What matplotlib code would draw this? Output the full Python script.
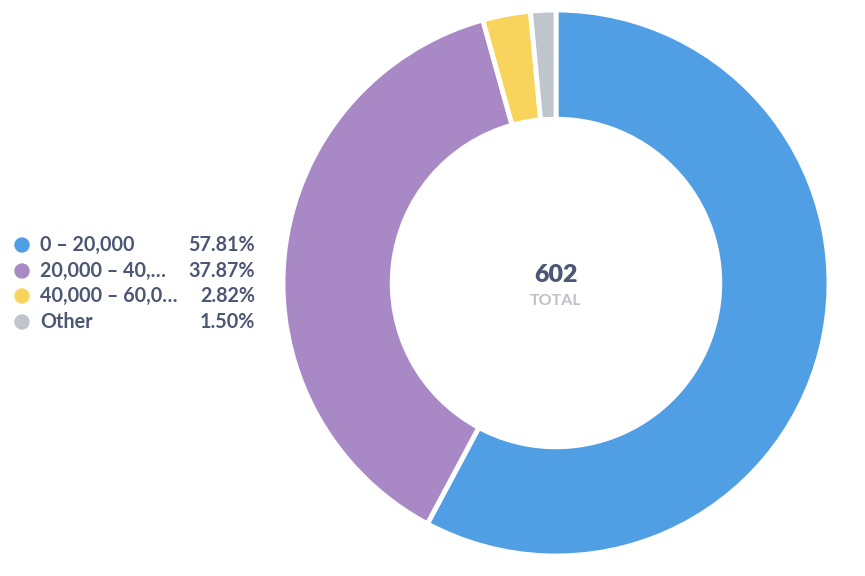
import matplotlib
matplotlib.use("Agg")
import matplotlib.pyplot as plt

categories = ["0 – 20,000", "20,000 – 40,…", "40,000 – 60,0…", "Other"]
counts = [348, 228, 17, 9]
colors = ["#509EE3", "#A989C5", "#F9D45C", "#C0C4CC"]

plt.rcParams['font.family'] = ['Lato', 'DejaVu Sans']
W, H = 865, 576
fig = plt.figure(figsize=(W/100, H/100), dpi=100)
cx, cy, R = 556, 283, 273
ax = fig.add_axes([(cx-R)/W, (H-cy-R)/H, 2*R/W, 2*R/H])
ax.pie(counts, colors=colors, startangle=90, counterclock=False,
       radius=1.0, wedgeprops=dict(width=0.40, edgecolor='white', linewidth=3.5))
ax.set_xlim(-1, 1); ax.set_ylim(-1, 1)
ax.set_aspect('equal')
ax.axis('off')

total = sum(counts)
ax.text(0, 0.03, f"{total}", ha='center', va='center', fontsize=18, fontweight='heavy', color='#4C5773')
ax.text(0, -0.065, "TOTAL", ha='center', va='center', fontsize=11.5, fontweight='bold', color='#BDC0C6')

text_color = '#4C5773'
ys = [245, 271, 296, 322]
for cat, c, col, y in zip(categories, counts, colors, ys):
    fy = 1 - y/H
    fig.patches.append(matplotlib.patches.Circle((22, (H-y)), 7, transform=None, color=col))
    fig.text(40/W, fy, cat, ha='left', va='center', fontsize=14.2, fontweight='bold', color=text_color)
    fig.text(255/W, fy, f"{c/total*100:.2f}%", ha='right', va='center', fontsize=14.2, fontweight='bold', color=text_color)

fig.savefig("out.png", dpi=100)
